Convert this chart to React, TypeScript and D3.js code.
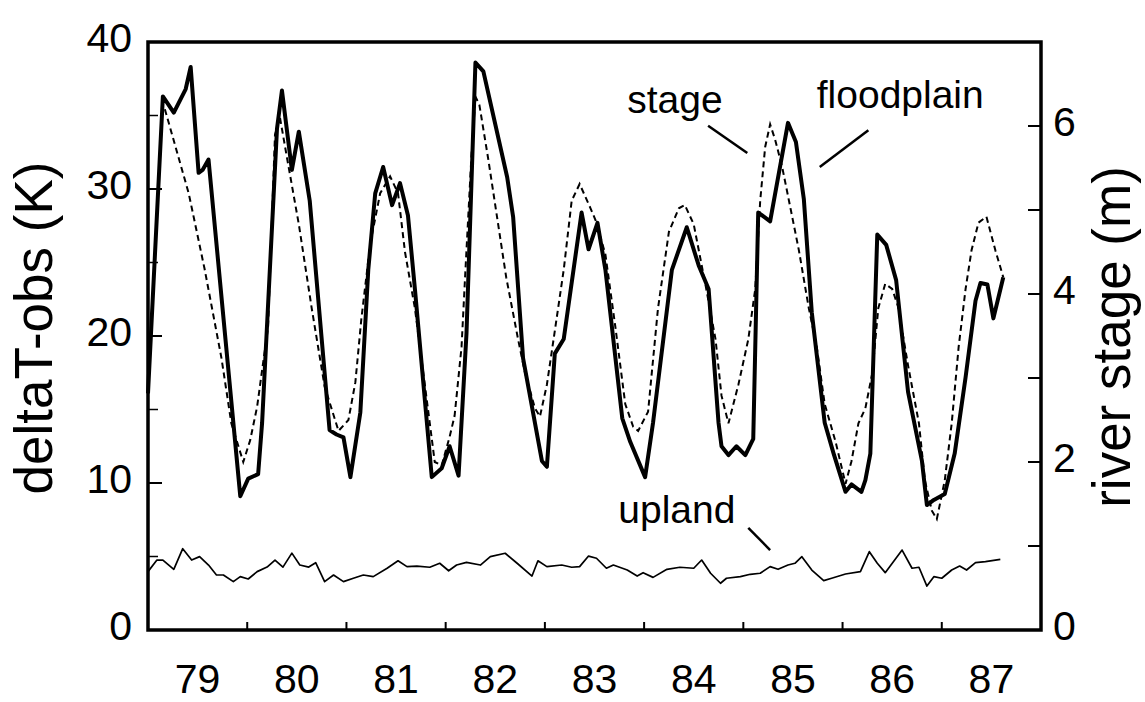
import React from 'react';
import * as d3 from 'd3';

// floodplain deltaT (K), vertices: decimal year (two-digit) / value
const floodYear = [79.00, 79.15, 79.26, 79.38, 79.43, 79.51, 79.55, 79.61, 79.93, 80.01, 80.11, 80.15,
  80.30, 80.35, 80.45, 80.52, 80.63, 80.83, 80.90, 80.97, 81.04, 81.14, 81.22, 81.29, 81.37, 81.46,
  81.54, 81.62, 81.69, 81.86, 81.96, 82.04, 82.13, 82.21, 82.30, 82.38, 82.62, 82.68, 82.78, 82.97,
  83.02, 83.10, 83.19, 83.37, 83.44, 83.53, 83.61, 83.78, 83.86, 84.01, 84.09, 84.28, 84.43, 84.55,
  84.65, 84.75, 84.78, 84.85, 84.93, 85.02, 85.10, 85.15, 85.27, 85.45, 85.53, 85.61, 85.69, 85.82,
  85.91, 86.03, 86.09, 86.19, 86.23, 86.28, 86.35, 86.44, 86.54, 86.66, 86.80, 86.85, 86.92, 87.03,
  87.13, 87.24, 87.34, 87.39, 87.46, 87.52, 87.62];
const floodK = [16.1, 36.3, 35.2, 36.8, 38.3, 31.1, 31.3, 32.0, 9.1, 10.3, 10.6, 14.1,
  34.1, 36.7, 31.3, 33.9, 29.2, 13.6, 13.3, 13.1, 10.4, 14.8, 24.5, 29.7, 31.5, 28.9,
  30.4, 28.2, 23.2, 10.4, 11.0, 12.5, 10.5, 20.2, 38.6, 38.0, 30.8, 28.1, 18.5, 11.5,
  11.1, 18.8, 19.8, 28.4, 25.9, 27.7, 24.5, 14.4, 12.8, 10.4, 14.1, 24.5, 27.4, 24.8,
  23.2, 14.1, 12.5, 11.9, 12.5, 11.9, 13.0, 28.4, 27.8, 34.5, 33.2, 29.3, 21.6, 14.1,
  12.0, 9.4, 9.9, 9.4, 10.2, 12.0, 26.9, 26.2, 23.8, 16.2, 11.5, 8.5, 8.85, 9.25,
  12.0, 17.2, 22.4, 23.6, 23.5, 21.2, 24.0];

// river stage (m)
const stageYear = [79.17, 79.41, 79.57, 79.74, 79.84, 79.96, 80.03, 80.10, 80.16, 80.21, 80.28, 80.33,
  80.41, 80.52, 80.65, 80.78, 80.92, 81.02, 81.09, 81.15, 81.24, 81.34, 81.44, 81.52, 81.59, 81.69,
  81.79, 81.89, 81.96, 82.04, 82.09, 82.16, 82.20, 82.26, 82.30, 82.34, 82.43, 82.52, 82.61, 82.73,
  82.80, 82.90, 82.95, 83.02, 83.10, 83.19, 83.27, 83.35, 83.46, 83.51, 83.61, 83.71, 83.81, 83.89,
  83.94, 84.04, 84.14, 84.25, 84.35, 84.41, 84.50, 84.62, 84.72, 84.78, 84.85, 84.95, 85.05, 85.12,
  85.17, 85.22, 85.27, 85.32, 85.39, 85.46, 85.56, 85.66, 85.74, 85.82, 85.93, 86.03, 86.09, 86.16,
  86.23, 86.30, 86.36, 86.43, 86.50, 86.56, 86.66, 86.77, 86.83, 86.90, 86.95, 87.03, 87.10, 87.17,
  87.24, 87.30, 87.37, 87.45, 87.54, 87.62];
const stageM = [6.2, 5.2, 4.3, 3.24, 2.46, 2.0, 2.26, 2.66, 3.18, 3.6, 5.9, 6.1,
  5.56, 4.83, 3.83, 2.9, 2.37, 2.5, 2.95, 3.7, 4.6, 5.2, 5.4, 5.2, 4.5, 3.83,
  2.92, 2.0, 1.96, 2.3, 2.55, 3.37, 4.3, 5.65, 6.35, 6.25, 5.6, 4.9, 4.2, 3.46,
  3.06, 2.64, 2.54, 2.92, 3.56, 4.29, 5.11, 5.31, 5.02, 4.88, 4.47, 3.61, 2.69, 2.42,
  2.37, 2.6, 3.83, 4.74, 5.02, 5.06, 4.83, 4.1, 3.46, 2.79, 2.46, 2.92, 3.46, 4.06,
  5.11, 5.75, 6.02, 5.84, 5.52, 5.11, 4.52, 3.83, 3.37, 2.69, 2.24, 1.74, 2.01, 2.46,
  2.64, 3.06, 3.83, 4.12, 4.06, 3.85, 3.15, 2.46, 1.78, 1.42, 1.32, 1.78, 2.46, 3.37,
  4.06, 4.52, 4.85, 4.92, 4.52, 4.2];

// upland deltaT (K)
const uplandYear = [79.00, 79.09, 79.15, 79.26, 79.35, 79.44, 79.52, 79.61, 79.69, 79.76, 79.86, 79.93,
  80.01, 80.10, 80.20, 80.28, 80.36, 80.45, 80.53, 80.62, 80.69, 80.78, 80.87, 80.97, 81.07, 81.17,
  81.27, 81.41, 81.52, 81.61, 81.71, 81.84, 81.94, 82.03, 82.11, 82.21, 82.35, 82.45, 82.60, 82.72,
  82.87, 82.93, 83.02, 83.17, 83.27, 83.35, 83.44, 83.52, 83.62, 83.69, 83.83, 83.93, 83.99, 84.09,
  84.23, 84.36, 84.50, 84.58, 84.67, 84.77, 84.83, 84.97, 85.07, 85.17, 85.27, 85.35, 85.45, 85.52,
  85.59, 85.69, 85.81, 85.89, 86.03, 86.18, 86.27, 86.35, 86.43, 86.60, 86.70, 86.77, 86.85, 86.92,
  87.00, 87.10, 87.18, 87.25, 87.34, 87.44, 87.59];
const uplandK = [3.97, 4.76, 4.76, 4.13, 5.53, 4.76, 4.99, 4.42, 3.74, 3.74, 3.29, 3.63,
  3.47, 3.97, 4.28, 4.76, 4.28, 5.23, 4.42, 4.28, 4.58, 3.29, 3.74, 3.29, 3.52, 3.74,
  3.63, 4.2, 4.71, 4.31, 4.35, 4.27, 4.54, 4.03, 4.42, 4.6, 4.42, 4.99, 5.22, 4.54,
  3.67, 4.71, 4.31, 4.42, 4.27, 4.31, 5.03, 4.88, 4.2, 4.42, 4.08, 3.67, 3.9, 3.58,
  4.13, 4.27, 4.2, 4.76, 3.86, 3.18, 3.52, 3.63, 3.79, 3.86, 4.31, 4.13, 4.42, 4.54,
  4.99, 4.08, 3.36, 3.52, 3.81, 3.97, 5.33, 4.54, 3.9, 5.44, 4.2, 4.27, 2.99, 3.63,
  3.52, 4.08, 4.35, 4.08, 4.58, 4.65, 4.81];

const yearTicks = [80, 81, 82, 83, 84, 85, 86, 87];
const yearLabels = ['79', '80', '81', '82', '83', '84', '85', '86', '87'];
const kMajor = [0, 10, 20, 30, 40];
const kMinor = [5, 15, 25, 35];
const mMajor = [0, 2, 4, 6];
const mMinor = [1, 3, 5];

// label anchors in data units: [year, K]
const notes = [
  { text: 'stage', at: [83.83, 35.2], from: [84.645, 34.3], to: [85.04, 32.45] },
  { text: 'floodplain', at: [85.74, 35.5], from: [86.26, 34.0], to: [85.77, 31.5] },
  { text: 'upland', at: [83.74, 7.28], from: [85.05, 6.94], to: [85.27, 5.44] },
];

const FONT = '"Liberation Sans", Arial, Helvetica, sans-serif';

export default function App() {
  const W = 1145, H = 702;
  const left = 148, right = 1041, top = 42, bottom = 630;

  const x = d3.scaleLinear().domain([79, 88]).range([left, right]);
  const yK = d3.scaleLinear().domain([0, 40]).range([bottom, top]);
  const yM = d3.scaleLinear().domain([0, 7]).range([bottom, top]);

  const lineK = d3.line<[number, number]>().x(d => x(d[0])).y(d => yK(d[1]));
  const lineM = d3.line<[number, number]>().x(d => x(d[0])).y(d => yM(d[1]));

  const flood = floodYear.map((t, i) => [t, floodK[i]] as [number, number]);
  const stage = stageYear.map((t, i) => [t, stageM[i]] as [number, number]);
  const upland = uplandYear.map((t, i) => [t, uplandK[i]] as [number, number]);

  return (
    <svg width={W} height={H} style={{ position: 'absolute', left: 0, top: 0, background: '#fff' }}
      fontFamily={FONT}>
      <rect width={W} height={H} fill="#fff" />

      {/* data */}
      <path d={lineK(upland) || ''} fill="none" stroke="#000" strokeWidth={1.7} strokeLinejoin="round" />
      <path d={lineM(stage) || ''} fill="none" stroke="#000" strokeWidth={2} strokeDasharray="6 4" />
      <path d={lineK(flood) || ''} fill="none" stroke="#000" strokeWidth={4} strokeLinejoin="round" />

      {/* frame */}
      <rect x={left} y={top} width={right - left} height={bottom - top} fill="none" stroke="#000" strokeWidth={3.5} />

      {/* left ticks */}
      {kMajor.map(v => (
        <line key={'km' + v} x1={left} x2={left + 14} y1={yK(v)} y2={yK(v)} stroke="#000" strokeWidth={2} />
      ))}
      {kMinor.map(v => (
        <line key={'kn' + v} x1={left} x2={left + 10} y1={yK(v)} y2={yK(v)} stroke="#000" strokeWidth={1.5} />
      ))}
      {kMajor.map(v => (
        <text key={'kl' + v} x={132} y={yK(v) + 10} fontSize={41} textAnchor="end">{v}</text>
      ))}

      {/* right ticks */}
      {mMajor.concat(mMinor).map(v => (
        <line key={'mm' + v} x1={right - 13} x2={right} y1={yM(v)} y2={yM(v)} stroke="#000" strokeWidth={2} />
      ))}
      {mMajor.map(v => (
        <text key={'ml' + v} x={1053} y={yM(v) + 10} fontSize={41} textAnchor="start">{v}</text>
      ))}

      {/* bottom ticks */}
      {yearTicks.map(v => (
        <line key={'yt' + v} x1={x(v)} x2={x(v)} y1={bottom} y2={bottom - 8} stroke="#000" strokeWidth={2} />
      ))}
      {yearLabels.map((s, i) => (
        <text key={'yl' + s} x={x(79.5 + i)} y={693} fontSize={41} textAnchor="middle">{s}</text>
      ))}

      {/* axis titles */}
      <text transform="translate(52,328) rotate(-90)" fontSize={53} textAnchor="middle">deltaT-obs (K)</text>
      <text transform="translate(1130,337) rotate(-90)" fontSize={53} textAnchor="middle">river stage (m)</text>

      {/* annotations */}
      {notes.map(n => (
        <g key={n.text}>
          <text x={x(n.at[0])} y={yK(n.at[1])} fontSize={39}>{n.text}</text>
          <line x1={x(n.from[0])} y1={yK(n.from[1])} x2={x(n.to[0])} y2={yK(n.to[1])} stroke="#000" strokeWidth={2.5} />
        </g>
      ))}
    </svg>
  );
}
